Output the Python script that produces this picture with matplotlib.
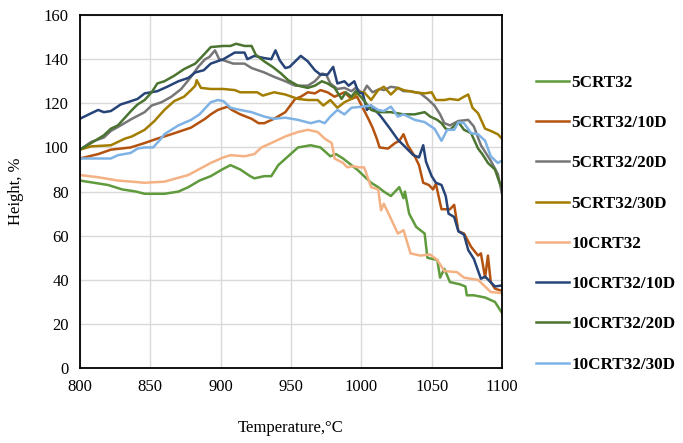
import matplotlib
matplotlib.use('Agg')
import matplotlib.pyplot as plt

# Values: temperature (deg C) / height (%)
t_5crt32 = [800, 810, 820, 830, 840, 846, 860, 870, 877, 885, 893, 901, 907, 914, 921, 924, 931, 936, 941,
            948, 955, 964, 971, 978, 982, 987, 991, 997, 1002, 1007, 1012, 1016, 1021, 1027, 1030, 1031, 1034,
            1039, 1045, 1047, 1054, 1056, 1059, 1063, 1070, 1074, 1075, 1080, 1088, 1095, 1100]
h_5crt32 = [85, 84, 83, 81, 80, 79, 79, 80, 82, 85, 87, 90, 92, 90, 87, 86, 87, 87, 92,
            96, 100, 101, 100, 96, 97, 95, 93, 90, 87, 84, 82, 80, 78, 82, 77, 80, 70,
            64, 61, 50, 49, 41, 45, 39, 38, 37, 33, 33, 32, 30, 25]

t_5crt32_10d = [800, 813, 822, 836, 846, 855, 865, 879, 889, 893, 898, 905, 908, 914, 922, 927, 931, 938,
                946, 953, 957, 962, 967, 971, 976, 981, 988, 993, 997, 1001, 1005, 1008, 1011, 1013, 1019,
                1024, 1027, 1030, 1033, 1038, 1041, 1044, 1048, 1051, 1053, 1057, 1063, 1066, 1069, 1073,
                1078, 1083, 1085, 1088, 1090, 1092, 1095, 1100]
h_5crt32_10d = [95, 97, 99, 100, 102, 104, 106, 109, 113, 115, 117, 118.5, 117, 115, 113, 111, 111, 113,
                116, 122, 123, 125, 124.5, 126, 125, 123, 125, 122, 123, 118, 113, 109, 104, 100, 99.5,
                102, 103, 106, 101, 96, 92, 84, 83, 81, 83.5, 72, 72, 74, 62, 61,
                55, 51, 52, 41, 51, 39, 36, 35]

t_5crt32_20d = [800, 808, 817, 822, 829, 837, 846, 851, 858, 865, 872, 879, 884, 889, 892, 896, 899, 902,
                909, 917, 922, 931, 938, 946, 953, 962, 967, 972, 975, 978, 983, 988, 993, 996, 1001, 1004,
                1008, 1013, 1016, 1021, 1026, 1030, 1035, 1042, 1047, 1052, 1056, 1059, 1063, 1069, 1076,
                1080, 1085, 1092, 1097, 1100]
h_5crt32_20d = [99, 102.5, 104.5, 107.5, 110, 113, 116, 119, 120.5, 123, 126.5, 132, 136.5, 140, 141, 144, 140, 139.5,
                138, 138, 136, 134, 132, 130, 128, 128, 130, 133.5, 133, 129, 126.5, 127, 125.5, 127, 124.5, 128,
                125, 126.5, 126, 127.5, 127, 125.5, 125.5, 124.5, 122, 119, 115, 111, 110, 112, 112.5,
                109.5, 101, 94, 88, 79]

t_5crt32_30d = [800, 808, 822, 832, 837, 846, 853, 860, 867, 874, 879, 882, 883, 886, 893, 902, 910, 914,
                926, 930, 938, 946, 955, 962, 969, 973, 978, 983, 988, 993, 998, 1002, 1007, 1012, 1016,
                1021, 1026, 1030, 1038, 1045, 1050, 1053, 1059, 1063, 1069, 1073, 1076, 1079, 1083, 1088,
                1092, 1097, 1100]
h_5crt32_30d = [99, 100.5, 101, 104, 105, 108, 112, 117, 121, 123, 126, 128, 130.5, 127, 126.5, 126.5, 126, 125,
                125, 123.5, 125, 124, 122, 121.5, 121.5, 119, 121.5, 118, 120.5, 122, 125, 125, 121.5, 126, 127.5,
                124, 127, 126, 125, 124.5, 125, 121.5, 121.5, 122, 121.5, 123, 124, 118, 115.5, 108.5,
                107.5, 106, 104]

t_10crt32 = [800, 813, 827, 837, 846, 860, 877, 893, 902, 907, 917, 924, 929, 936, 946, 955, 962, 969, 974,
             979, 981, 987, 990, 994, 998, 1002, 1007, 1012, 1014, 1016, 1026, 1030, 1035, 1042, 1049, 1054,
             1059, 1068, 1073, 1083, 1092, 1100]
h_10crt32 = [87.5, 86.5, 85, 84.5, 84, 84.5, 87.5, 93, 95.5, 96.5, 96, 97, 100, 102, 105, 107, 108, 107, 104,
             102, 95, 93, 91, 91.5, 91, 91, 82, 81, 71.5, 74.5, 61, 62.5, 52, 51, 51.5, 49,
             44, 43.5, 41, 40, 34.5, 34]

t_10crt32_10d = [800, 808, 813, 817, 822, 829, 834, 841, 846, 855, 862, 870, 877, 882, 888, 893, 902, 910,
                 917, 919, 924, 931, 936, 939, 942, 946, 949, 953, 957, 962, 967, 971, 976, 980, 983, 988,
                 991, 995, 998, 1001, 1004, 1007, 1014, 1021, 1026, 1030, 1037, 1041, 1044, 1046, 1050, 1053,
                 1057, 1060, 1062, 1066, 1069, 1073, 1076, 1080, 1085, 1088, 1095, 1100]
h_10crt32_10d = [113, 115.5, 117, 116, 116.5, 119.5, 120.5, 122, 124.5, 125.5, 127.5, 130, 131.5, 134, 135, 138, 140, 143,
                 143, 140, 141.5, 140.5, 140, 144, 139.5, 136, 136.5, 139, 141.5, 139, 135, 133, 133, 136.5, 129, 130,
                 128, 130, 125, 124.5, 117, 119, 114, 108, 103.5, 101, 96.5, 95.5, 101, 93.5, 87, 84,
                 83, 78, 70, 68.5, 62, 60.5, 53.5, 49.5, 40.5, 41.5, 37, 37.5]

t_10crt32_20d = [800, 808, 817, 822, 827, 832, 837, 841, 846, 851, 855, 860, 867, 874, 882, 888, 893, 902,
                 907, 911, 917, 922, 925, 931, 937, 943, 948, 955, 962, 967, 972, 976, 981, 986, 989, 993,
                 996, 1001, 1007, 1012, 1021, 1030, 1038, 1045, 1049, 1054, 1057, 1060, 1063, 1069, 1073,
                 1078, 1083, 1086, 1090, 1095, 1098, 1100]
h_10crt32_20d = [99, 102, 105.5, 108.5, 110, 113.5, 117, 119.5, 121.5, 125, 129, 130, 132.5, 135.5, 138, 142, 145.5, 146,
                 146, 147, 146, 146, 142, 139, 136.5, 133.5, 130.5, 128, 127, 128, 130, 129, 127, 122, 125, 123,
                 125.5, 122, 117, 116, 116, 115, 115, 116, 114, 112.5, 111, 108.5, 108, 111.5, 108,
                 106.5, 99.5, 97, 93, 90, 84.5, 82]

t_10crt32_30d = [800, 822, 827, 836, 841, 846, 852, 857, 860, 865, 870, 879, 885, 893, 898, 902, 907, 914,
                 922, 931, 938, 946, 955, 964, 970, 974, 978, 983, 988, 993, 1001, 1007, 1012, 1016, 1021,
                 1026, 1030, 1038, 1045, 1052, 1057, 1061, 1066, 1069, 1073, 1078, 1083, 1088, 1092, 1097, 1100]
h_10crt32_30d = [95, 95, 96.5, 97.5, 99.5, 100, 100, 103.5, 106, 108, 110, 112.5, 115, 120.5, 121.5, 121, 118, 117,
                 116, 114, 113, 113.5, 112.5, 111, 112, 111, 114, 117, 115, 118, 118.5, 119, 117, 116.5, 118.5,
                 114, 115, 112.5, 111.5, 108.5, 103, 108, 108, 111.5, 111, 106.5, 106, 103, 96, 93, 94]

labels = ["5CRT32", "5CRT32/10D", "5CRT32/20D", "5CRT32/30D",
          "10CRT32", "10CRT32/10D", "10CRT32/20D", "10CRT32/30D"]
series = [(t_5crt32, h_5crt32), (t_5crt32_10d, h_5crt32_10d), (t_5crt32_20d, h_5crt32_20d),
          (t_5crt32_30d, h_5crt32_30d), (t_10crt32, h_10crt32), (t_10crt32_10d, h_10crt32_10d),
          (t_10crt32_20d, h_10crt32_20d), (t_10crt32_30d, h_10crt32_30d)]
colors = ["#5F9A3C", "#B4530F", "#767676", "#A37D00",
          "#F4B183", "#264478", "#4A7430", "#7EB2E4"]

plt.rcParams['font.family'] = ['Liberation Serif', 'DejaVu Serif']

fig = plt.figure(figsize=(6.83, 4.43), dpi=100)
ax = fig.add_axes([0.117, 0.169, 0.618, 0.797])

for (t, h), lab, c in zip(series, labels, colors):
    ax.plot(t, h, color=c, linewidth=1.8, label=lab)

ax.set_xlim(800, 1100)
ax.set_ylim(0, 160)
ax.set_xticks(range(800, 1101, 50))
ax.set_yticks(range(0, 161, 20))
ax.grid(True, color="#D9D9D9", linewidth=1.0)
ax.set_axisbelow(True)
for sp in ax.spines.values():
    sp.set_color("black")
    sp.set_linewidth(1.3)
ax.tick_params(length=0, labelsize=12)
ax.tick_params(axis='x', pad=8)
ax.tick_params(axis='y', pad=8)

ax.set_xlabel("Temperature,\u00b0C", fontsize=12, labelpad=18)
ax.set_ylabel("Height, %", fontsize=12, labelpad=14)

ax.legend(loc="upper left", bbox_to_anchor=(1.064, 0.85), frameon=False,
          prop={'weight': 'bold', 'size': 12.3}, handlelength=1.95, handletextpad=0.12,
          labelspacing=1.42, borderaxespad=0)

fig.savefig("out.png", dpi=100)
